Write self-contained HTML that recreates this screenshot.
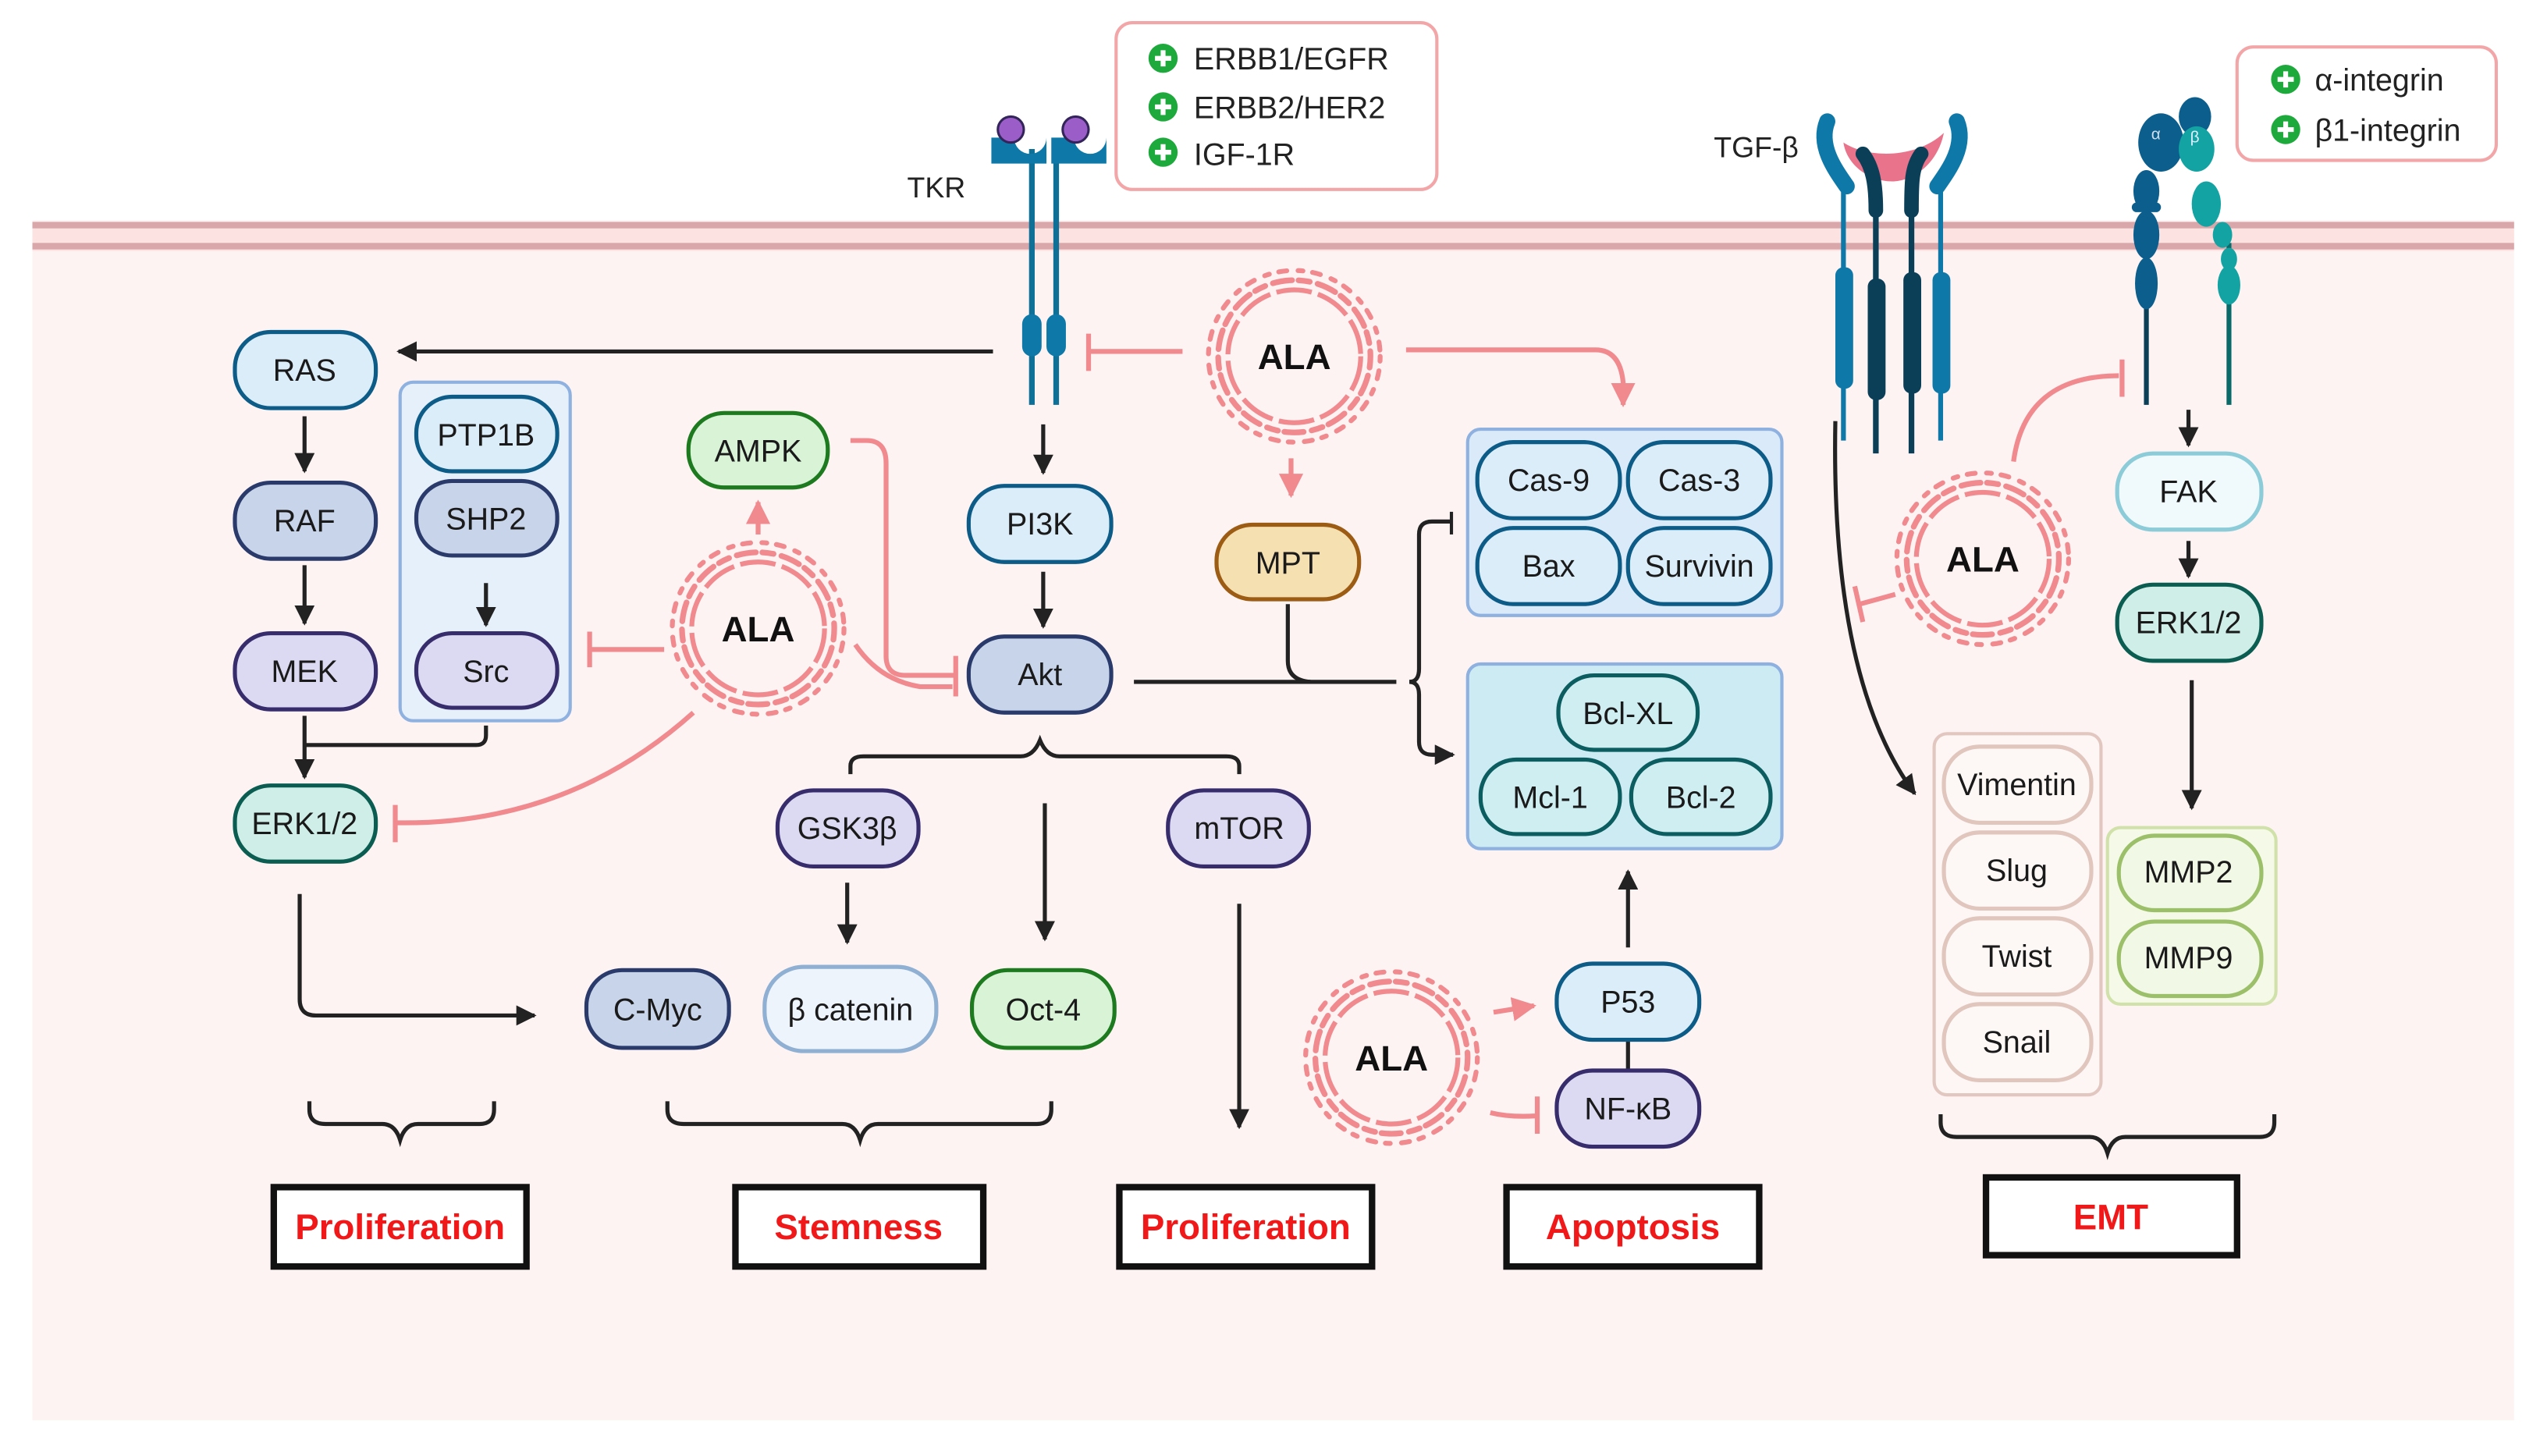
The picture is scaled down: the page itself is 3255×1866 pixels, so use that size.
<!DOCTYPE html>
<html><head><meta charset="utf-8"><style>
html,body{margin:0;padding:0;background:#fff}
svg{display:block}
text{font-family:"Liberation Sans",Arial,sans-serif}
</style></head><body>
<svg width="3255" height="1866" viewBox="0 0 1568 899" preserveAspectRatio="none" xmlns="http://www.w3.org/2000/svg">
<defs>
<marker id="ab" viewBox="0 0 10 10" refX="9" refY="5" markerWidth="5" markerHeight="5" orient="auto"><path d="M0,0L10,5L0,10z" fill="#222"/></marker>
<marker id="ap" viewBox="0 0 10 10" refX="9" refY="5" markerWidth="5" markerHeight="5" orient="auto"><path d="M0,0L10,5L0,10z" fill="#f08a8e"/></marker>
<g id="ala">
<circle r="41" fill="none" stroke="#f08a8e" stroke-width="3" stroke-dasharray="22 4"/>
<circle r="47" fill="none" stroke="#f08a8e" stroke-width="3.5" stroke-linecap="round" stroke-dasharray="7 5 12 4"/>
<circle r="53" fill="none" stroke="#f08a8e" stroke-width="3" stroke-linecap="round" stroke-dasharray="3 6 5 7"/>
</g>
</defs>
<rect x="0" y="0" width="1568" height="899" fill="#fff"/>
<rect x="20" y="136" width="1532" height="741" fill="#fdf3f3"/>
<rect x="20" y="137" width="1532" height="18" fill="#fde2e2"/>
<rect x="20" y="137" width="1532" height="4" fill="#d9a6a9"/>
<rect x="20" y="150" width="1532" height="4" fill="#d9a6a9"/>

<!-- legend boxes -->
<rect x="689" y="14" width="198" height="103" rx="10" fill="#fff" stroke="#f3a6a8" stroke-width="2"/>
<g font-size="19" fill="#222">
<circle cx="718" cy="36" r="9" fill="#1ea93c"/><path d="M718,31v10M713,36h10" stroke="#fff" stroke-width="3"/>
<text x="737" y="43">ERBB1/EGFR</text>
<circle cx="718" cy="66" r="9" fill="#1ea93c"/><path d="M718,61v10M713,66h10" stroke="#fff" stroke-width="3"/>
<text x="737" y="73">ERBB2/HER2</text>
<circle cx="718" cy="94" r="9" fill="#1ea93c"/><path d="M718,89v10M713,94h10" stroke="#fff" stroke-width="3"/>
<text x="737" y="102">IGF-1R</text>
</g>
<rect x="1381" y="29" width="160" height="70" rx="10" fill="#fff" stroke="#f3a6a8" stroke-width="2"/>
<g font-size="19" fill="#222">
<circle cx="1411" cy="49" r="9" fill="#1ea93c"/><path d="M1411,44v10M1406,49h10" stroke="#fff" stroke-width="3"/>
<text x="1429" y="56">α-integrin</text>
<circle cx="1411" cy="80" r="9" fill="#1ea93c"/><path d="M1411,75v10M1406,80h10" stroke="#fff" stroke-width="3"/>
<text x="1429" y="87">β1-integrin</text>
</g>

<!-- TKR -->
<text x="560" y="122" font-size="18" fill="#222">TKR</text>
<path d="M637,92V250M652,92V250" stroke="#0e6f97" stroke-width="3.5"/>
<path d="M612,85h14a10,10 0 0 0 20,0v16h-34z" fill="#0e79a8"/>
<path d="M648,85h14a10,10 0 0 0 20,0v16h-34z" transform="translate(1,0)" fill="#0e79a8"/>
<circle cx="624" cy="80" r="8" fill="#9b5ec8" stroke="#33245a" stroke-width="1.5"/>
<circle cx="664" cy="80" r="8" fill="#9b5ec8" stroke="#33245a" stroke-width="1.5"/>
<rect x="631" y="194" width="12" height="26" rx="6" fill="#0e79a8"/>
<rect x="646" y="194" width="12" height="26" rx="6" fill="#0e79a8"/>

<!-- TGF-beta receptor -->
<text x="1058" y="97" font-size="18" fill="#222">TGF-β</text>
<path d="M1138,110V272M1198,110V272" stroke="#0e79a8" stroke-width="3"/>
<path d="M1158,120V280M1180,120V280" stroke="#0b3f58" stroke-width="3.5"/>
<rect x="1133" y="165" width="11" height="75" rx="5" fill="#0e79a8"/>
<rect x="1193" y="168" width="11" height="75" rx="5" fill="#0e79a8"/>
<rect x="1153" y="172" width="11" height="75" rx="5" fill="#0b3f58"/>
<rect x="1175" y="168" width="11" height="75" rx="5" fill="#0b3f58"/>
<path d="M1128,75c-6,15 5,30 12,40" stroke="#0e79a8" stroke-width="10" fill="none" stroke-linecap="round"/>
<path d="M1208,75c6,15 -5,30 -12,40" stroke="#0e79a8" stroke-width="10" fill="none" stroke-linecap="round"/>
<path d="M1138,88c15,10 45,10 62,-6c-4,20 -20,30 -32,30c-14,0 -28,-10 -30,-24z" fill="#e8738a"/>
<path d="M1150,95c6,8 8,18 8,35" stroke="#0b3f58" stroke-width="9" fill="none" stroke-linecap="round"/>
<path d="M1186,95c-6,8 -6,18 -6,35" stroke="#0b3f58" stroke-width="9" fill="none" stroke-linecap="round"/>

<!-- integrin -->
<path d="M1325,150V250" stroke="#0b3f58" stroke-width="3"/>
<path d="M1376,150V250" stroke="#0a6a6a" stroke-width="3"/>
<ellipse cx="1334" cy="88" rx="14" ry="18" fill="#0c5e8c"/>
<ellipse cx="1355" cy="72" rx="10" ry="12" fill="#0c5e8c"/>
<ellipse cx="1356" cy="92" rx="11" ry="14" fill="#14a3a3"/>
<text x="1328" y="86" font-size="10" fill="#cde">α</text><text x="1352" y="88" font-size="10" fill="#def">β</text>
<ellipse cx="1325" cy="118" rx="8" ry="13" fill="#0c5e8c"/>
<rect x="1316" y="125" width="18" height="6" rx="3" fill="#0c5e8c"/>
<ellipse cx="1325" cy="145" rx="8" ry="15" fill="#0c5e8c"/>
<ellipse cx="1325" cy="175" rx="7" ry="16" fill="#0c5e8c"/>
<ellipse cx="1362" cy="126" rx="9" ry="14" fill="#14a3a3"/>
<ellipse cx="1372" cy="145" rx="6" ry="8" fill="#14a3a3"/>
<ellipse cx="1376" cy="160" rx="5" ry="7" fill="#14a3a3"/>
<ellipse cx="1376" cy="176" rx="7" ry="12" fill="#14a3a3"/>

<!-- group boxes -->
<rect x="247" y="236" width="105" height="209" rx="8" fill="#e6f0fb" stroke="#8eb1e0" stroke-width="2"/>
<rect x="906" y="265" width="194" height="115" rx="8" fill="#dbeaf8" stroke="#8eb1e0" stroke-width="2"/>
<rect x="906" y="410" width="194" height="114" rx="8" fill="#cdebf3" stroke="#8eb1e0" stroke-width="2"/>
<rect x="1194" y="453" width="103" height="223" rx="8" fill="#fdf6f4" stroke="#e2c7c0" stroke-width="2"/>
<rect x="1301" y="511" width="104" height="109" rx="8" fill="#f5f9e8" stroke="#d0e2aa" stroke-width="2"/>

<!-- black connectors -->
<g stroke="#222" stroke-width="2.5" fill="none">
<path d="M613,217H246" marker-end="url(#ab)"/>
<path d="M188,257V291" marker-end="url(#ab)"/>
<path d="M188,349V385" marker-end="url(#ab)"/>
<path d="M188,442V480" marker-end="url(#ab)"/>
<path d="M300,448v6q0,6 -6,6H188"/>
<path d="M300,360V386" marker-end="url(#ab)"/>
<path d="M644,262V292" marker-end="url(#ab)"/>
<path d="M644,353V387" marker-end="url(#ab)"/>
<path d="M700,421H862"/>
<path d="M795,373V408q0,12 14,13"/>
<path d="M870,421q6,0 6,-8V330q0,-8 8,-8h12"/>
<path d="M870,421q6,0 6,8V458q0,8 8,8h13" marker-end="url(#ab)"/>
<path d="M896,316V330" stroke-width="2"/>
<path d="M185,552V617q0,10 10,10H330" marker-end="url(#ab)"/>
<path d="M525,478v-5q0,-6 8,-6H630q8,0 12,-10q4,10 12,10H757q8,0 8,6v5"/>
<path d="M645,496V580" marker-end="url(#ab)"/>
<path d="M523,545V582" marker-end="url(#ab)"/>
<path d="M765,558V696" marker-end="url(#ab)"/>
<path d="M1005,585V538" marker-end="url(#ab)"/>
<path d="M1005,640V662"/>
<path d="M1133,260Q1130,420 1182,490" marker-end="url(#ab)"/>
<path d="M1351,253V275" marker-end="url(#ab)"/>
<path d="M1351,334V356" marker-end="url(#ab)"/>
<path d="M1353,420V499" marker-end="url(#ab)"/>
<!-- braces -->
<path d="M191,680v5q0,9 10,9H236q8,0 11,10q3,-10 11,-10H296q9,0 9,-9v-5"/>
<path d="M412,680v5q0,9 10,9H520q8,0 11,10q3,-10 11,-10H640q9,0 9,-9v-5"/>
<path d="M1198,688v5q0,9 10,9H1290q8,0 11,10q3,-10 11,-10H1395q9,0 9,-9v-5"/>
</g>

<!-- pink connectors -->
<g stroke="#f08a8e" stroke-width="3" fill="none">
<path d="M730,217H672M672,206V229"/>
<path d="M868,216H985q15,0 17,20V250" marker-end="url(#ap)"/>
<path d="M797,283V306" marker-end="url(#ap)"/>
<path d="M468,330V310" marker-end="url(#ap)"/>
<path d="M525,272h10q12,0 12,14V405q0,12 12,12H590M590,405V430"/>
<path d="M528,398q15,22 40,26H588"/>
<path d="M410,401H364M364,390V412"/>
<path d="M428,440Q350,510 244,508M244,497V520"/>
<path d="M1243,285Q1250,232 1308,232M1310,222V245"/>
<path d="M1170,367L1148,373M1145,362L1150,384"/>
<path d="M922,625L947,621" marker-end="url(#ap)"/>
<path d="M920,687Q932,690 948,689M949,677V700"/>
</g>

<!-- ALA circles -->
<use href="#ala" x="799" y="220"/>
<use href="#ala" x="468" y="388"/>
<use href="#ala" x="1224" y="345"/>
<use href="#ala" x="859" y="653"/>
<g font-size="22" font-weight="bold" text-anchor="middle" fill="#111">
<text x="799" y="228">ALA</text><text x="468" y="396">ALA</text>
<text x="1224" y="353">ALA</text><text x="859" y="661">ALA</text>
</g>

<!-- nodes -->
<g stroke-width="2.5" font-size="19" text-anchor="middle">
<rect x="145" y="205" width="87" height="47" rx="22" fill="#dcedfa" stroke="#0d5c88"/>
<rect x="145" y="298" width="87" height="47" rx="22" fill="#c8d4ea" stroke="#2a3b6b"/>
<rect x="145" y="391" width="87" height="47" rx="22" fill="#dcd9f2" stroke="#372d6c"/>
<rect x="145" y="485" width="87" height="47" rx="22" fill="#cfeee7" stroke="#0b5d52"/>
<rect x="257" y="245" width="87" height="46" rx="22" fill="#dcedfa" stroke="#0d5c88"/>
<rect x="257" y="297" width="87" height="46" rx="22" fill="#c8d4ea" stroke="#2a3b6b"/>
<rect x="257" y="391" width="87" height="46" rx="22" fill="#dcd9f2" stroke="#372d6c"/>
<rect x="425" y="255" width="86" height="46" rx="22" fill="#d8f3d6" stroke="#1d7a1f"/>
<rect x="598" y="300" width="88" height="47" rx="22" fill="#dcedfa" stroke="#0d5c88"/>
<rect x="598" y="393" width="88" height="47" rx="22" fill="#c8d4ea" stroke="#2a3b6b"/>
<rect x="751" y="324" width="88" height="46" rx="22" fill="#f5e0b2" stroke="#9c5c14"/>
<rect x="912" y="273" width="88" height="47" rx="22" fill="#dcedfa" stroke="#0d5c88"/>
<rect x="1005" y="273" width="88" height="47" rx="22" fill="#dcedfa" stroke="#0d5c88"/>
<rect x="912" y="326" width="88" height="47" rx="22" fill="#dcedfa" stroke="#0d5c88"/>
<rect x="1005" y="326" width="88" height="47" rx="22" fill="#dcedfa" stroke="#0d5c88"/>
<rect x="962" y="417" width="86" height="46" rx="22" fill="#cfeef2" stroke="#0b5d60"/>
<rect x="914" y="469" width="86" height="46" rx="22" fill="#cfeef2" stroke="#0b5d60"/>
<rect x="1007" y="469" width="86" height="46" rx="22" fill="#cfeef2" stroke="#0b5d60"/>
<rect x="480" y="488" width="87" height="47" rx="22" fill="#dcd9f2" stroke="#372d6c"/>
<rect x="721" y="488" width="87" height="47" rx="22" fill="#dcd9f2" stroke="#372d6c"/>
<rect x="362" y="599" width="88" height="48" rx="22" fill="#c8d4ea" stroke="#2a3b6b"/>
<rect x="472" y="597" width="106" height="52" rx="24" fill="#eef4fb" stroke="#8fb0d2"/>
<rect x="600" y="599" width="88" height="48" rx="22" fill="#d8f3d6" stroke="#1d7a1f"/>
<rect x="961" y="595" width="88" height="47" rx="22" fill="#dcedfa" stroke="#0d5c88"/>
<rect x="961" y="661" width="88" height="47" rx="22" fill="#dcd9f2" stroke="#372d6c"/>
<rect x="1307" y="280" width="89" height="47" rx="22" fill="#f0f9fc" stroke="#8ccbd8"/>
<rect x="1307" y="361" width="89" height="47" rx="22" fill="#cfeee7" stroke="#0b5d52"/>
<rect x="1200" y="461" width="91" height="47" rx="22" fill="#fdf8f5" stroke="#e0c6bd"/>
<rect x="1200" y="514" width="91" height="47" rx="22" fill="#fdf8f5" stroke="#e0c6bd"/>
<rect x="1200" y="567" width="91" height="47" rx="22" fill="#fdf8f5" stroke="#e0c6bd"/>
<rect x="1200" y="620" width="91" height="47" rx="22" fill="#fdf8f5" stroke="#e0c6bd"/>
<rect x="1308" y="516" width="88" height="46" rx="22" fill="#f2f8e6" stroke="#9cc06a"/>
<rect x="1308" y="569" width="88" height="46" rx="22" fill="#f2f8e6" stroke="#9cc06a"/>
</g>
<g font-size="19" text-anchor="middle" fill="#1a1a1a">
<text x="188" y="235">RAS</text><text x="188" y="328">RAF</text><text x="188" y="421">MEK</text><text x="188" y="515">ERK1/2</text>
<text x="300" y="275">PTP1B</text><text x="300" y="327">SHP2</text><text x="300" y="421">Src</text>
<text x="468" y="285">AMPK</text><text x="642" y="330">PI3K</text><text x="642" y="423">Akt</text>
<text x="795" y="354">MPT</text>
<text x="956" y="303">Cas-9</text><text x="1049" y="303">Cas-3</text><text x="956" y="356">Bax</text><text x="1049" y="356">Survivin</text>
<text x="1005" y="447">Bcl-XL</text><text x="957" y="499">Mcl-1</text><text x="1050" y="499">Bcl-2</text>
<text x="523" y="518">GSK3β</text><text x="765" y="518">mTOR</text>
<text x="406" y="630">C-Myc</text><text x="525" y="630">β catenin</text><text x="644" y="630">Oct-4</text>
<text x="1005" y="625">P53</text><text x="1005" y="691">NF-κB</text>
<text x="1351" y="310">FAK</text><text x="1351" y="391">ERK1/2</text>
<text x="1245" y="491">Vimentin</text><text x="1245" y="544">Slug</text><text x="1245" y="597">Twist</text><text x="1245" y="650">Snail</text>
<text x="1351" y="545">MMP2</text><text x="1351" y="598">MMP9</text>
</g>

<!-- outcome boxes -->
<g fill="#fff" stroke="#111" stroke-width="4">
<rect x="169" y="733" width="156" height="49"/>
<rect x="454" y="733" width="153" height="49"/>
<rect x="691" y="733" width="156" height="49"/>
<rect x="930" y="733" width="156" height="49"/>
<rect x="1226" y="727" width="155" height="48"/>
</g>
<g font-size="22" font-weight="bold" fill="#f01818" text-anchor="middle">
<text x="247" y="765">Proliferation</text>
<text x="530" y="765">Stemness</text>
<text x="769" y="765">Proliferation</text>
<text x="1008" y="765">Apoptosis</text>
<text x="1303" y="759">EMT</text>
</g>
</svg>
</body></html>
